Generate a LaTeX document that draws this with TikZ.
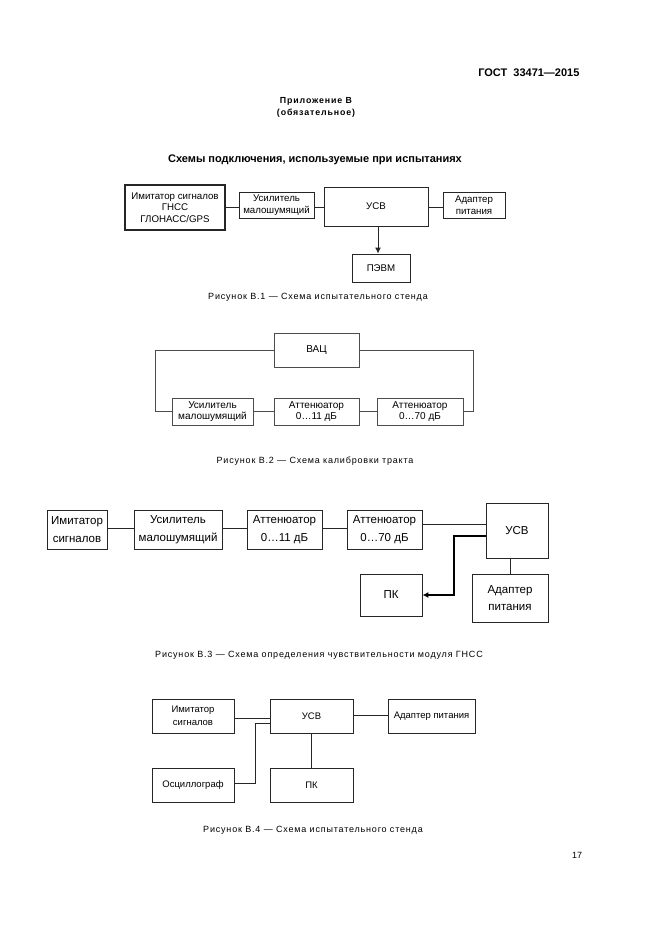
\documentclass[tikz,border=0pt]{standalone}
\usepackage{fontspec}
\setmainfont{Liberation Sans}
\newfontfamily\capfont[LetterSpace=9]{Liberation Sans}
\newfontfamily\appfont[LetterSpace=10]{Liberation Sans}
\usetikzlibrary{arrows.meta}
\tikzset{
  box/.style={draw=black!85, line width=0.9pt, inner sep=0pt, align=center, minimum width=#1},
  ln/.style={draw=black!85, line width=0.9pt},
  arr/.style={ln, -{Latex[length=6pt,width=6pt]}},
  fa/.style={font=\fontsize{9.7}{11.5}\selectfont},
  fb/.style={font=\fontsize{10}{11.7}\selectfont},
  fc/.style={font=\fontsize{11.5}{17.7}\selectfont},
  fd/.style={font=\fontsize{9.5}{13.3}\selectfont},
  capt/.style={font=\capfont\fontsize{9}{10}\selectfont},
}
\begin{document}
\begin{tikzpicture}[x=1pt,y=-1pt]
\path[use as bounding box, fill=white] (0,0) rectangle (661,936);

% header
\node[font=\bfseries\fontsize{11}{13}\selectfont, anchor=east] (gost) at (583,73) {ГОСТ\ \ 33471—2015};
\node[font=\appfont\bfseries\fontsize{8.8}{12}\selectfont, align=center] (app) at (316,107) {Приложение В\\(обязательное)};
\node[font=\bfseries\fontsize{11}{13}\selectfont] (title) at (315,160) {Схемы подключения, используемые при испытаниях};

% Figure 1
\node[box=100pt, minimum height=45pt, fa, line width=1.3pt] (imit1) at (175,207.5) {Имитатор сигналов\\ГНСС\\ГЛОНАСС/GPS};
\node[box=75pt, minimum height=26pt, fa] (amp1) at (276.5,205) {Усилитель\\малошумящий};
\node[box=104pt, minimum height=39pt, fa] (usv1) at (376,206.5) {УСВ};
\node[box=62pt, minimum height=26pt, fa] (adp1) at (474,205) {Адаптер\\питания};
\node[box=58pt, minimum height=28pt, fa] (pc1) at (381,268) {ПЭВМ};
\draw[ln] (imit1.east) -- (imit1.east -| amp1.west);
\draw[ln] (amp1.east |- imit1.east) -- (imit1.east -| usv1.west);
\draw[ln] (usv1.east |- imit1.east) -- (imit1.east -| adp1.west);
\draw[arr] ([xshift=2pt]usv1.south) -- ([xshift=2pt]usv1.south |- pc1.north);
\node[capt] (c1) at (318,297) {Рисунок В.1 — Схема испытательного стенда};

% Figure 2
\node[box=85pt, minimum height=34pt, fb, draw=black!70] (vac) at (316.5,350) {ВАЦ};
\node[box=81pt, minimum height=27pt, fb, draw=black!70] (amp2) at (212.5,411.5) {Усилитель\\малошумящий};
\node[box=85pt, minimum height=27pt, fb, draw=black!70] (att2a) at (316.5,411.5) {Аттенюатор\\0…11 дБ};
\node[box=86pt, minimum height=27pt, fb, draw=black!70] (att2b) at (420,411.5) {Аттенюатор\\0…70 дБ};
\coordinate (l2) at (155,350);
\coordinate (r2) at (473,350);
\draw[ln, draw=black!70] (vac.west) -- (l2) |- (amp2.west);
\draw[ln, draw=black!70] (vac.east) -- (r2) |- (att2b.east);
\draw[ln, draw=black!70] (amp2.east) -- (att2a.west);
\draw[ln, draw=black!70] (att2a.east) -- (att2b.west);
\node[capt] (c2) at (315,461) {Рисунок В.2 — Схема калибровки тракта};

% Figure 3
\node[box=60pt, minimum height=39pt, fc] (imit3) at (77,529.5) {Имитатор\\сигналов};
\node[box=88pt, minimum height=39pt, fc] (amp3) at (178,529.5) {Усилитель\\малошумящий};
\node[box=75pt, minimum height=39pt, fc] (att3a) at (284.5,529.5) {Аттенюатор\\0…11 дБ};
\node[box=75pt, minimum height=39pt, fc] (att3b) at (384.5,529.5) {Аттенюатор\\0…70 дБ};
\node[box=62pt, minimum height=55pt, fc] (usv3) at (517,530.5) {УСВ};
\node[box=62pt, minimum height=42pt, fc] (pc3) at (391,595) {ПК};
\node[box=76pt, minimum height=48pt, fc] (adp3) at (510,598) {Адаптер\\питания};
\draw[ln, line width=1pt] ([yshift=1.5pt]imit3.east) -- ([yshift=1.5pt]amp3.west);
\draw[ln, line width=1pt] ([yshift=1.5pt]amp3.east) -- ([yshift=1.5pt]att3a.west);
\draw[ln, line width=1pt] ([yshift=1.5pt]att3a.east) -- ([yshift=1.5pt]att3b.west);
\draw[ln, line width=1pt] ([yshift=5.5pt]att3b.east) -- ([yshift=5.5pt]att3b.east -| usv3.west);
\coordinate (k3) at (454,595);
\draw[arr, line width=1.4pt, draw=black] ([yshift=-5.5pt]usv3.west) -| (k3) -- (pc3.east);
\draw[ln, line width=1pt] (adp3.north |- usv3.south) -- (adp3.north);
\node[capt] (c3) at (319,655) {Рисунок В.3 — Схема определения чувствительности модуля ГНСС};

% Figure 4
\node[box=82pt, minimum height=34pt, fd] (imit4) at (193,716) {Имитатор\\сигналов};
\node[box=83pt, minimum height=34pt, fd] (usv4) at (311.5,716) {УСВ};
\node[box=87pt, minimum height=34pt, fd] (adp4) at (431.5,716) {Адаптер питания};
\node[box=82pt, minimum height=34pt, fd] (osc4) at (193,785) {Осциллограф};
\node[box=83pt, minimum height=34pt, fd] (pc4) at (311.5,785) {ПК};
\draw[ln] ([yshift=-2pt]imit4.east) -- ([yshift=-2pt]imit4.east -| usv4.west);
\draw[ln] ([yshift=1pt]usv4.east) -- ([yshift=1pt]usv4.east -| adp4.west);
\coordinate (b4) at (255,723);
\draw[ln] ([yshift=2pt]osc4.east) -| (b4) -- (b4 -| usv4.west);
\draw[ln] (usv4.south) -- (pc4.north);
\node[capt] (c4) at (313,830) {Рисунок В.4 — Схема испытательного стенда};

\node[font=\fontsize{9}{11}\selectfont] (pg) at (577,855) {17};
\end{tikzpicture}
\end{document}
